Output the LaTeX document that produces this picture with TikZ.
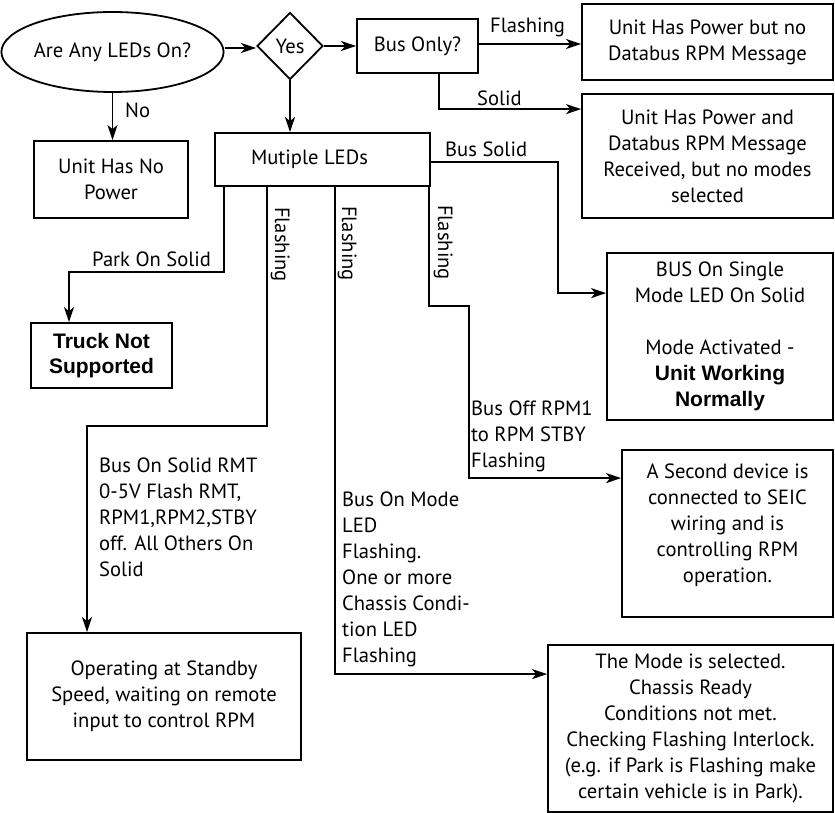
\documentclass[tikz,border=0pt]{standalone}
\usepackage{fontspec}
\setmainfont{PT Sans}
\newfontfamily\bfam{Liberation Sans}
\usetikzlibrary{shapes.geometric,arrows.meta,calc}
\newcommand\txtsize{\fontsize{20.6}{26}\selectfont}
\newcommand\bsz{\bfam\bfseries\fontsize{21}{25}\selectfont}
\begin{document}
\begin{tikzpicture}[x=1pt,y=-1pt,
  every node/.style={font=\txtsize},
  box/.style={draw, line width=1.8pt, inner sep=0pt, align=center},
  sz/.style 2 args={minimum width=#1pt, minimum height=#2pt},
  arr/.style={line width=1.8pt, -{Stealth[length=15pt,width=10pt,inset=4pt]}},
  lbl/.style={inner sep=0pt},
  mlbl/.style={inner sep=0pt, align=left, anchor=north west},
  vlbl/.style={inner sep=0pt, rotate=-90, anchor=base west}]
\useasboundingbox (0,0) rectangle (835,813);

% nodes
\node[draw, line width=1.8pt, ellipse, inner sep=0pt, minimum width=215pt, minimum height=80pt] (ell) at (112.5,52) {Are Any LEDs On?};
\node[draw, line width=1.8pt, diamond, aspect=1, inner sep=0pt, minimum width=66pt, minimum height=67pt] (yes) at (290,46) {Yes};
\node[box, sz={121}{54}] (busonly) at (417.5,46) {Bus Only?};
\node[box, sz={251}{76}] (pwr1) at (707.5,42) {Unit Has Power but no\\Databus RPM Message};
\node[box, sz={251}{124}] (pwr2) at (707.5,156) {Unit Has Power and\\Databus RPM Message\\Received, but no modes\\selected};
\node[box, sz={154}{77}] (nopwr) at (111,179.5) {Unit Has No\\Power};
\node[box, sz={215}{53}] (mled) at (322.5,159.5) {Mutiple LEDs\hspace*{26pt}};
\node[box, sz={141}{65}, font=\bsz] (truck) at (101.5,355.5) {Truck Not\\Supported};
\node[box, sz={226}{167}] (bus) at (720,336.5) {BUS On Single\\Mode LED On Solid\\[26pt]Mode Activated -\\{\bsz Unit Working}\\{\bsz Normally}};
\node[box, sz={211}{167}] (sec) at (727.5,533.5) {};
\node[inner sep=0pt, align=center] (sectxt) at ([yshift=8pt]sec.center) {A Second device is\\connected to SEIC\\wiring and is\\controlling RPM\\operation.};
\node[box, sz={274}{127}] (standby) at (164,696.5) {Operating at Standby\\Speed, waiting on remote\\input to control RPM};
\node[box, sz={285}{167}] (mode) at (690.5,728.5) {The Mode is selected.\\Chassis Ready\\Conditions not met.\\Checking Flashing Interlock.\\(e.g. if Park is Flashing make\\certain vehicle is in Park).};

% connectors
\draw[arr] (ell.east |- 0,48) -- (yes.west |- 0,48);
\draw[arr] (yes.east) -- (busonly.west);
\draw[arr] ([yshift=2pt]busonly.east) -- ([yshift=2pt]busonly.east -| pwr1.west);
\draw[arr] ([xshift=21.5pt]busonly.south) |- ([yshift=-16pt]pwr2.north west);
\draw[arr] (yes.south) -- (yes.south |- mled.north);
\draw[arr] (ell.south) -- (ell.south |- nopwr.north);
\draw[arr] ([xshift=10pt]mled.south west) -- ++(0,85) -| ([xshift=-32.5pt]truck.north);
\draw[arr] ([xshift=53pt]mled.south west) -- ++(0,239) -| ([xshift=-77pt]standby.north);
\draw[arr] ([xshift=121pt]mled.south west) |- ([yshift=-30pt]mode.north west);
\draw[arr] ([xshift=-2pt]mled.south east) -- ++(0,119) -- ++(40,0) |- ([yshift=-29pt]sec.north west);
\draw[arr] ([yshift=-2.5pt]mled.east) -- ++(127,0) |- ([yshift=-41pt]bus.north west);

% labels
\node[lbl, anchor=base west] (lno) at (125,118) {No};
\node[lbl, anchor=base west] (lfl) at (490,33) {Flashing};
\node[lbl, anchor=base west] (lsol) at (477,106) {Solid};
\node[lbl, anchor=base west] (lbs) at (445,157) {Bus Solid};
\node[lbl, anchor=base west] (lpark) at (92,266) {Park On Solid};
\node[vlbl] (vf1) at (275,207) {Flashing};
\node[vlbl] (vf2) at (342,206) {Flashing};
\node[vlbl] (vf3) at (438,205) {Flashing};
\node[mlbl] (lrmt) at (99,458) {Bus On Solid RMT\\0-5V Flash RMT,\\RPM1,RPM2,STBY\\off. All Others On\\Solid};
\node[mlbl] (lmode) at (342,492) {Bus On Mode\\LED\\Flashing.\\One or more\\Chassis Condi-\\tion LED\\Flashing};
\node[mlbl] (loff) at (471,401) {Bus Off RPM1\\to RPM STBY\\Flashing};
\end{tikzpicture}
\end{document}
